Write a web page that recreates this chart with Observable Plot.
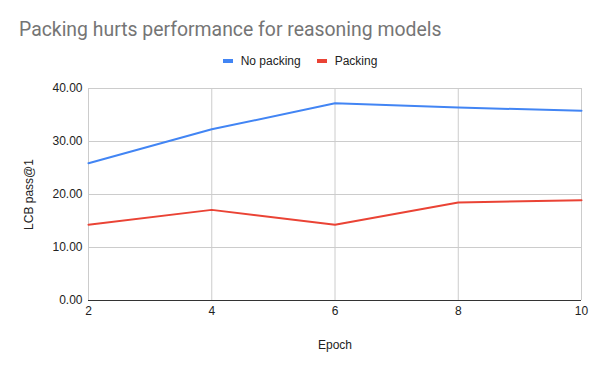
<!DOCTYPE html>
<html><head><meta charset="utf-8">
<script src="https://cdn.jsdelivr.net/npm/d3@7"></script>
<script src="https://cdn.jsdelivr.net/npm/@observablehq/plot@0.6"></script>
<style>
body{margin:0;background:#fff;font-family:"Liberation Sans",Arial,sans-serif;}
#wrap{position:relative;width:600px;height:371px;}
#title{position:absolute;left:19px;top:18px;font-family:Roboto,"Liberation Sans",sans-serif;font-size:19.4px;color:#757575;white-space:nowrap;}
#legend{position:absolute;top:54px;left:0;width:600px;display:flex;justify-content:center;font-size:12px;color:#222;}
.item{display:flex;align-items:center;margin:0 8px;}
.sw{width:10px;height:4px;margin-right:8px;}
</style></head>
<body><div id="wrap"><div id="title">Packing hurts performance for reasoning models</div><div id="legend"></div><div id="chart"></div></div>
<script>
const epochs = [2, 4, 6, 8, 10];
const noPacking = [25.9, 32.3, 37.2, 36.4, 35.8];
const packing = [14.3, 17.1, 14.3, 18.5, 18.9];
const seriesNames = ["No packing", "Packing"];
const seriesColors = ["#4285F4", "#EA4335"];
const yTicks = [0, 10, 20, 30, 40];
const xTicks = [2, 4, 6, 8, 10];

const data = [];
epochs.forEach((e, i) => {
  data.push({epoch: e, value: noPacking[i], series: seriesNames[0]});
  data.push({epoch: e, value: packing[i], series: seriesNames[1]});
});

const leg = document.getElementById("legend");
seriesNames.forEach((n, i) => {
  const d = document.createElement("div"); d.className = "item";
  d.innerHTML = `<span class="sw" style="background:${seriesColors[i]}"></span>${n}`;
  leg.appendChild(d);
});

const chart = Plot.plot({
  width: 600, height: 371,
  marginTop: 88, marginLeft: 88, marginRight: 19, marginBottom: 71,
  style: {fontFamily: '"Liberation Sans", Arial, sans-serif', fontSize: "12px", color: "#222"},
  x: {domain: [2, 10], ticks: xTicks, tickSize: 0, tickPadding: 6, label: "Epoch", labelAnchor: "center", labelArrow: "none", labelOffset: 48},
  y: {domain: [0, 40], ticks: yTicks, tickSize: 0, tickPadding: 6, tickFormat: d => d.toFixed(2), label: "LCB pass@1", labelAnchor: "center", labelArrow: "none", labelOffset: 64},
  color: {domain: seriesNames, range: seriesColors},
  marks: [
    Plot.gridX(xTicks, {stroke: "#cccccc", strokeOpacity: 1}),
    Plot.gridY(yTicks, {stroke: "#cccccc", strokeOpacity: 1}),
    Plot.ruleY([0], {stroke: "#333"}),
    Plot.axisX({ticks: xTicks, tickSize: 0, tickPadding: 6, label: "Epoch", labelAnchor: "center", labelArrow: "none", labelOffset: 48}),
    Plot.axisY({ticks: yTicks, tickSize: 0, tickPadding: 6, tickFormat: d => d.toFixed(2), label: "LCB pass@1", labelAnchor: "center", labelArrow: "none", labelOffset: 64}),
    Plot.line(data, {x: "epoch", y: "value", stroke: "series", z: "series", strokeWidth: 2})
  ]
});
document.getElementById("chart").appendChild(chart);
</script></body></html>
